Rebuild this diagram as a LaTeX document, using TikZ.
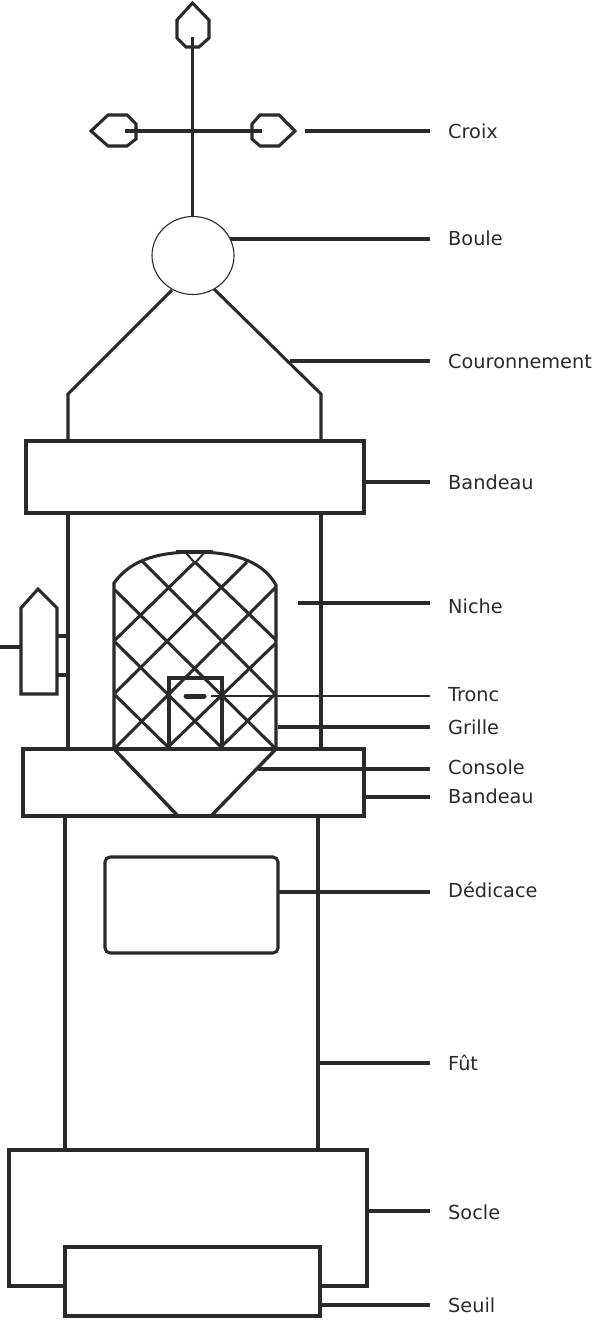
\documentclass[tikz,border=0pt]{standalone}
\usepackage{fontspec}
\usetikzlibrary{shapes.geometric}
\setmainfont{DejaVu Sans}
\definecolor{ink}{HTML}{2A2A2A}
\tikzset{
  ln/.style={draw=ink,line width=3.05pt,line join=miter,outer sep=0pt},
  thinln/.style={draw=ink,line width=1.1pt},
  gridl/.style={draw=ink,line width=3.05pt},
  lead/.style={draw=ink,line width=3.05pt,shorten >=18pt},
  lab/.style={anchor=west,inner sep=0pt,text height=14pt,text depth=0pt,text=ink,font=\fontsize{19.3}{20}\selectfont}
}
\begin{document}
\begin{tikzpicture}[x=1pt,y=-1pt]
\useasboundingbox (0,0) rectangle (600,1330);
% labels
\node[lab] (lcroix) at (448,131) {Croix};
\node[lab] (lboule) at (448,238) {Boule};
\node[lab] (lcour) at (448,361) {Couronnement};
\node[lab] (lband) at (448,482) {Bandeau};
\node[lab] (lniche) at (448,606) {Niche};
\node[lab] (ltronc) at (448,694) {Tronc};
\node[lab] (lgrille) at (448,727) {Grille};
\node[lab] (lcons) at (448,767) {Console};
\node[lab] (lband2) at (448,796) {Bandeau};
\node[lab] (ldedi) at (448,890) {Dédicace};
\node[lab] (lfut) at (448,1063) {Fût};
\node[lab] (lsocle) at (448,1212) {Socle};
\node[lab] (lseuil) at (448,1305) {Seuil};
% cross
\draw[ln] (192.5,3) -- (209,20) -- (209,38) -- (199,47) -- (186,47) -- (177,38) -- (177,20) -- cycle;
\draw[ln] (91,131) -- (108,115) -- (127,115) -- (136,124) -- (136,139) -- (127,146) -- (108,146) -- cycle;
\draw[ln] (295,131) -- (279,115) -- (260,115) -- (252,124) -- (252,139) -- (260,146) -- (279,146) -- cycle;
\draw[ln] (192.9,37) -- (192.9,217);
\draw[ln] (125,131) -- (262,131);
% ball
\node[ellipse,thinln,minimum width=82pt,minimum height=78pt,inner sep=0pt] (ball) at (193,255.5) {};
% crown
\draw[ln] (172,290) -- (68,394) -- (68,441);
\draw[ln] (214,289) -- (321,394) -- (321,441);
% upper band and tower
\node[ln,minimum width=338pt,minimum height=72pt,inner sep=0pt,anchor=north west] (band) at (26,441) {};
\draw[ln] (68,513) -- (68,749);
\draw[ln] (321,513) -- (321,749);
% side piece
\draw[ln] (21,608) -- (38,589) -- (57,608) -- (57,694) -- (21,694) -- cycle;
\draw[ln] (57,636) -- (68,636) (57,675) -- (68,675);
\draw[ln] (0,647) -- (21,647);
% niche
\draw[ln] (114,749) -- (114,583) .. controls (128,564) and (150,552) .. (195,552) .. controls (240,552) and (264,564) .. (276,585) -- (276,749);
\draw[ln] (176,552) -- (213,552);
\draw[gridl,line width=2pt] (186,553) -- (195,563) -- (204,553);
\draw[gridl] (115,748) -- (276,587);
\draw[gridl] (168,747) -- (276,643);
\draw[gridl] (221,747) -- (276,693);
\draw[gridl] (115,693) -- (247,562);
\draw[gridl] (115,640) -- (195,562);
\draw[gridl] (275,748) -- (115,590);
\draw[gridl] (221,747) -- (115,642);
\draw[gridl] (168,747) -- (115,695);
\draw[gridl] (276,695) -- (142,561);
\draw[gridl] (276,640) -- (195,562);
% tronc
\draw[ln] (169,748) -- (169,678) -- (222,678) -- (222,748);
\draw[draw=ink,line width=5pt,line cap=round] (186,696) -- (204,696);
% lower band
\node[ln,minimum width=341pt,minimum height=67pt,inner sep=0pt,anchor=north west] (band2) at (23,749) {};
\draw[ln,line width=3.4pt] (115,750) -- (178,816);
\draw[ln,line width=3.4pt] (275,750) -- (211,816);
% shaft
\draw[ln] (65,816) -- (65,1150);
\draw[ln] (318,816) -- (318,1150);
\draw[ln,rounded corners=5pt] (105,857) rectangle (278,953);
% base
\draw[ln] (65,1286) -- (9,1286) -- (9,1150) -- (367,1150) -- (367,1286) -- (320,1286);
\node[ln,minimum width=255pt,minimum height=69pt,inner sep=0pt,anchor=north west] (seuil) at (65,1247) {};
% leaders
\coordinate (a1) at (305,131);
\coordinate (a2) at (230,239);
\coordinate (a3) at (290,361);
\coordinate (a4) at (364,482);
\coordinate (a5) at (298,603);
\coordinate (a6) at (211,696);
\coordinate (a7) at (278,727);
\coordinate (a8) at (258,769);
\coordinate (a9) at (364,797);
\coordinate (a10) at (278,892);
\coordinate (a11) at (318,1063);
\coordinate (a12) at (367,1211);
\coordinate (a13) at (320,1305);
\draw[lead] (a1) -- (a1 -| lcroix.west);
\draw[lead] (a2) -- (a2 -| lboule.west);
\draw[lead] (a3) -- (a3 -| lcour.west);
\draw[lead] (a4) -- (a4 -| lband.west);
\draw[lead] (a5) -- (a5 -| lniche.west);
\draw[lead,line width=2.4pt] (a6) -- (a6 -| ltronc.west);
\draw[lead] (a7) -- (a7 -| lgrille.west);
\draw[lead] (a8) -- (a8 -| lcons.west);
\draw[lead] (a9) -- (a9 -| lband2.west);
\draw[lead] (a10) -- (a10 -| ldedi.west);
\draw[lead] (a11) -- (a11 -| lfut.west);
\draw[lead] (a12) -- (a12 -| lsocle.west);
\draw[lead] (a13) -- (a13 -| lseuil.west);
\end{tikzpicture}
\end{document}
